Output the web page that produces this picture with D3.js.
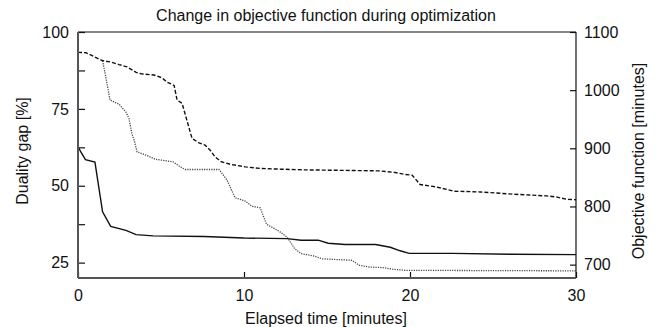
<!DOCTYPE html>
<html lang="en">
<head>
<meta charset="UTF-8">
<title>Change in objective function during optimization</title>
<script src="https://cdn.jsdelivr.net/npm/d3@7"></script>
<style>
  body { margin: 0; background: #fff; }
  svg text { font-family: "Liberation Sans", Arial, sans-serif; fill: #111; }
</style>
</head>
<body>
<div id="chart"></div>
<script>
// elapsed time [minutes] and values
var gapTime = [0, 0.18, 0.45, 1.02, 1.48, 1.97, 2.89, 3.5, 4.52, 7.59, 10.0, 12.6, 13.44, 14.47, 15.07, 16.09, 17.93, 18.81, 19.41, 19.95, 22.54, 26.16, 30];
var gapValue = [62.7, 60.9, 58.5, 57.7, 41.5, 36.8, 35.5, 34.1, 33.7, 33.5, 33.0, 32.8, 32.3, 32.3, 31.3, 30.9, 30.9, 30.0, 28.85, 28.0, 28.0, 27.7, 27.6];

var upperTime = [0, 0.48, 0.96, 1.45, 1.99, 2.47, 2.95, 3.5, 3.8, 4.58, 5.06, 5.36, 5.79, 5.97, 6.27, 6.87, 7.29, 7.66, 7.96, 8.26, 8.62, 9.22, 10.07, 11.03, 12.24, 13.68, 15.07, 18.14, 19.11, 19.71, 20.13, 20.61, 21.58, 22.66, 24.23, 26.22, 28.21, 28.81, 29.42, 30];
var upperValue = [1065, 1064.4, 1057.8, 1050.9, 1048.3, 1044, 1040.2, 1030.6, 1028.2, 1026, 1021.3, 1013.9, 1008.2, 982.9, 977.3, 917, 909.4, 905.4, 896.8, 885.3, 877, 872.2, 868.1, 865.3, 864.1, 862.9, 862.4, 861.2, 858.4, 855, 853.8, 837.8, 833.6, 826.2, 825, 821.1, 818.2, 816.4, 812.4, 811.6];

var otherTime = [1.48, 1.63, 1.93, 2.47, 2.89, 3.07, 3.24, 3.38, 3.56, 4.1, 4.64, 5.73, 6.15, 6.45, 8.5, 8.98, 9.46, 10.07, 10.46, 10.97, 11.36, 12.12, 12.6, 13.06, 13.44, 14.17, 14.71, 16.52, 16.94, 17.54, 18.38, 18.99, 19.71, 30];
var otherValue = [1050.6, 1029.4, 982.9, 976, 962.2, 951.4, 926.1, 914, 893.9, 888.2, 881.3, 876.7, 868.4, 863.6, 863.6, 845.2, 815, 809.3, 800.4, 797.8, 769.4, 757.3, 747, 727.2, 718.9, 715.2, 710, 707.4, 698.8, 695.9, 694.8, 691.9, 690.2, 689.3];

var xTicks = [0, 10, 20, 30];
var leftTicks = [25, 37.5, 50, 62.5, 75, 87.5, 100];
var leftLabels = [25, 50, 75, 100];
var rightTicks = [700, 800, 900, 1000, 1100];

var W = 659, H = 327;
var m = { left: 78, right: 83, top: 32, bottom: 49 };
var fs = 16;

var svg = d3.select("#chart").append("svg")
    .attr("width", W)
    .attr("height", H);

var x = d3.scaleLinear().domain([0, 30]).range([m.left, W - m.right]);
var yL = d3.scaleLinear().domain([20, 100]).range([H - m.bottom, m.top]);
var yR = d3.scaleLinear().domain([677, 1100]).range([H - m.bottom, m.top]);

function zip(a, b) { return a.map(function(d, i) { return [d, b[i]]; }); }

var lineL = d3.line().x(function(d) { return x(d[0]); }).y(function(d) { return yL(d[1]); });
var lineR = d3.line().x(function(d) { return x(d[0]); }).y(function(d) { return yR(d[1]); });

// series
svg.append("path")
    .attr("d", lineR(zip(otherTime, otherValue)))
    .attr("fill", "none")
    .attr("stroke", "#444")
    .attr("stroke-width", 1.3)
    .attr("stroke-dasharray", "1.2,1.2");

svg.append("path")
    .attr("d", lineR(zip(upperTime, upperValue)))
    .attr("fill", "none")
    .attr("stroke", "#111")
    .attr("stroke-width", 1.4)
    .attr("stroke-dasharray", "4,2");

svg.append("path")
    .attr("d", lineL(zip(gapTime, gapValue)))
    .attr("fill", "none")
    .attr("stroke", "#111")
    .attr("stroke-width", 1.4);

// axes
var gx = svg.append("g")
    .attr("transform", "translate(0," + (H - m.bottom) + ")")
    .call(d3.axisBottom(x).tickValues(xTicks).tickSizeInner(-6).tickSizeOuter(0).tickPadding(12));

var gl = svg.append("g")
    .attr("transform", "translate(" + m.left + ",0)")
    .call(d3.axisLeft(yL).tickValues(leftTicks).tickSizeInner(-7).tickSizeOuter(0).tickPadding(9)
        .tickFormat(function(d) { return leftLabels.indexOf(d) >= 0 ? d : ""; }));

var gr = svg.append("g")
    .attr("transform", "translate(" + (W - m.right) + ",0)")
    .call(d3.axisRight(yR).tickValues(rightTicks).tickSizeInner(-6).tickSizeOuter(0).tickPadding(8)
        .tickFormat(d3.format("d")));

[gx, gl, gr].forEach(function(g) {
    g.select(".domain").remove();
    g.selectAll(".tick line").attr("stroke", "#111").attr("stroke-width", 1.2);
    g.selectAll(".tick text").attr("font-size", fs).attr("font-family", null);
});

// frame
svg.append("line")
    .attr("x1", m.left).attr("x2", W - m.right)
    .attr("y1", m.top).attr("y2", m.top)
    .attr("stroke", "#111").attr("stroke-width", 1.2);
svg.append("line")
    .attr("x1", W - m.right).attr("x2", W - m.right)
    .attr("y1", m.top).attr("y2", H - m.bottom)
    .attr("stroke", "#111").attr("stroke-width", 1.2);
svg.append("line")
    .attr("x1", m.left).attr("x2", m.left)
    .attr("y1", m.top).attr("y2", H - m.bottom)
    .attr("stroke", "#555").attr("stroke-width", 2);
svg.append("line")
    .attr("x1", m.left).attr("x2", W - m.right)
    .attr("y1", H - m.bottom).attr("y2", H - m.bottom)
    .attr("stroke", "#555").attr("stroke-width", 2);

// titles
svg.append("text")
    .attr("x", 326).attr("y", 21)
    .attr("text-anchor", "middle")
    .attr("font-size", fs)
    .text("Change in objective function during optimization");

svg.append("text")
    .attr("x", 326).attr("y", 324)
    .attr("text-anchor", "middle")
    .attr("font-size", fs)
    .text("Elapsed time [minutes]");

svg.append("text")
    .attr("transform", "translate(28,151) rotate(-90)")
    .attr("text-anchor", "middle")
    .attr("font-size", fs)
    .text("Duality gap [%]");

svg.append("text")
    .attr("transform", "translate(644,161) rotate(-90)")
    .attr("text-anchor", "middle")
    .attr("font-size", fs)
    .text("Objective function [minutes]");
</script>
</body>
</html>
